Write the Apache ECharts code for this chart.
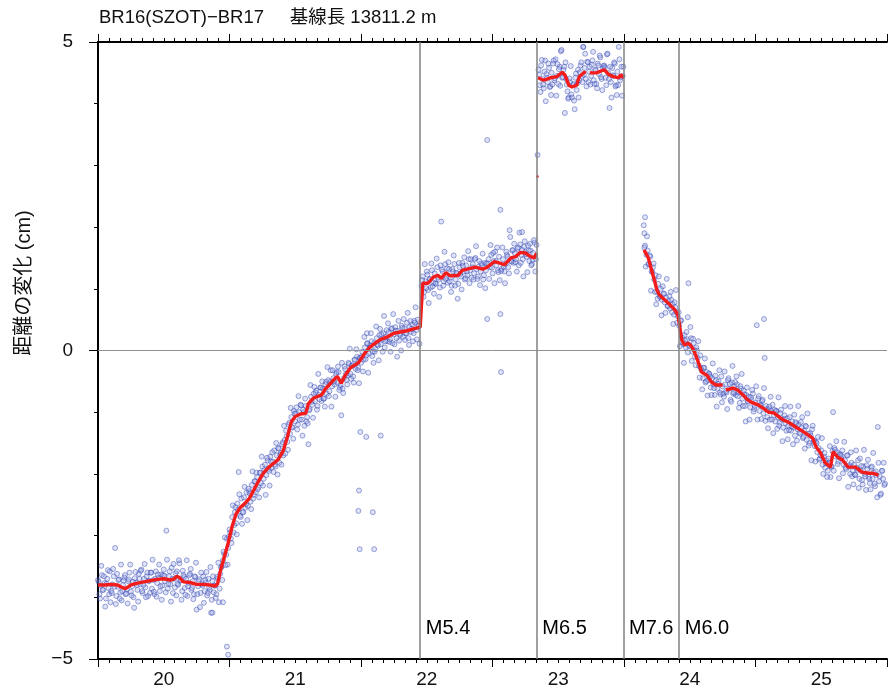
<!DOCTYPE html>
<html>
<head>
<meta charset="utf-8">
<script src="https://cdn.jsdelivr.net/npm/echarts@6/dist/echarts.min.js"></script>
<style>
  html, body { margin: 0; padding: 0; background: #fff; }
  #main { width: 890px; height: 690px; }
</style>
</head>
<body>
<div id="main"></div>
<script>
// 日々の値 (cm)：各区間の開始年と 0.01 年ごとの値（a, b の2組）
var step = 0.01;
var seg1Start = 2020.00;
var seg1 = [
  -3.72,-3.95,-3.81,-3.64,-3.88,-3.77,-4.02,-3.70,-3.85,-3.58,
  -3.90,-3.79,-3.66,-3.20,-3.98,-3.83,-3.71,-3.92,-4.05,-3.80,
  -3.68,-3.95,-3.87,-3.74,-3.60,-3.91,-3.82,-4.00,-3.69,-3.76,
  -3.88,-3.62,-3.79,-3.55,-3.93,-3.70,-3.84,-3.66,-3.98,-3.73,
  -3.60,-3.86,-3.72,-3.95,-3.58,-3.77,-3.68,-3.90,-3.63,-3.81,
  -3.55,-3.74,-2.92,-3.86,-3.66,-3.79,-3.52,-3.93,-3.70,-3.61,
  -3.58,-3.80,-3.45,-3.72,-3.90,-3.64,-3.85,-3.70,-3.98,-3.77,
  -3.62,-3.88,-3.74,-3.95,-3.67,-4.20,-3.82,-3.71,-3.93,-3.79,
  -3.66,-3.90,-3.76,-3.97,-3.70,-3.88,-4.25,-3.74,-3.92,-3.81,
  -3.95,-3.70,-4.08,-3.62,-3.50,-3.40,-3.30,-3.48,-3.05,-3.20,
  -2.90,-3.05,-2.70,-2.95,-2.62,-2.80,-2.48,-1.97,-2.68,-2.40,
  -2.62,-2.38,-2.55,-2.30,-2.52,-2.28,-2.45,-2.18,-2.40,-2.12,
  -2.30,-2.05,-2.22,-1.98,-2.15,-1.88,-2.08,-1.85,-2.02,-1.78,
  -1.95,-1.72,-1.90,-1.80,-1.62,-1.88,-1.70,-1.58,-1.82,-1.66,
  -1.52,-1.70,-1.45,-1.30,-1.48,-1.20,-1.35,-1.08,-1.25,-0.98,
  -1.15,-0.92,-1.20,-1.00,-0.88,-1.12,-0.96,-1.22,-0.90,-1.08,
  -1.52,-0.95,-0.75,-0.88,-0.70,-0.82,-0.65,-0.90,-0.72,-0.60,
  -0.82,-0.62,-0.78,-0.55,-0.70,-0.48,-0.66,-0.32,-0.58,-0.45,
  -0.55,-0.38,-0.52,-0.35,-0.60,-1.05,-0.62,-0.45,-0.30,-0.48,
  -0.40,-0.22,-0.38,-0.25,-0.42,-0.15,-0.30,-0.10,-0.28,-0.12,
  -0.20,-0.02,-0.15,0.05,-0.08,0.12,-0.05,0.08,0.15,-0.02,
  0.12,0.02,0.20,0.08,0.25,0.10,0.18,0.28,0.05,0.22,
  0.15,0.30,0.18,0.35,0.12,0.26,0.38,0.20,0.32,0.16,
  0.25,0.40,0.22,0.36,0.28,0.45,0.20,0.38,0.30,0.42,
  0.28,0.45,0.33,0.50,0.40
];
var seg1b = [
  -3.75,-4.02,-3.49,-3.88,-3.66,-4.15,-3.78,-3.56,-3.95,-4.08,
  -3.93,-3.54,-3.83,-4.11,-3.62,-3.72,-4.02,-3.47,-3.90,-3.73,
  -3.64,-3.94,-4.10,-3.71,-3.47,-3.97,-3.75,-4.17,-3.59,-3.80,
  -4.07,-3.70,-3.57,-3.90,-3.80,-3.46,-4.00,-3.60,-3.74,-3.93,
  -3.60,-3.39,-3.91,-3.70,-3.99,-3.63,-3.47,-3.82,-4.04,-3.64,
  -3.65,-3.92,-3.39,-3.78,-3.58,-4.07,-3.70,-3.46,-3.84,-3.97,
  -3.78,-3.40,-3.73,-4.04,-3.57,-3.67,-3.96,-3.40,-3.82,-3.64,
  -3.54,-3.85,-4.03,-3.66,-3.44,-3.95,-3.74,-4.16,-3.60,-3.81,
  -4.09,-3.72,-3.59,-3.93,-3.84,-3.51,-4.04,-3.66,-3.81,-4.01,
  -3.67,-3.44,-3.86,-3.52,-3.72,-3.26,-3.03,-3.31,-3.47,-3.02,
  -2.95,-3.12,-2.51,-2.83,-2.54,-2.98,-2.58,-2.33,-2.70,-2.81,
  -2.62,-2.21,-2.49,-2.75,-2.24,-2.32,-2.57,-1.96,-2.34,-2.12,
  -1.98,-2.25,-2.38,-1.98,-1.72,-2.19,-1.94,-2.34,-1.74,-1.92,
  -2.19,-1.80,-1.65,-1.97,-1.85,-1.50,-2.01,-1.59,-1.69,-1.85,
  -1.49,-1.22,-1.67,-1.39,-1.61,-1.17,-0.93,-1.24,-1.43,-1.02,
  -1.02,-1.28,-0.74,-1.12,-0.89,-1.38,-1.00,-0.78,-1.15,-1.18,
  -0.97,-0.56,-0.83,-1.09,-0.59,-0.68,-0.96,-0.38,-0.79,-0.60,
  -0.50,-0.78,-0.91,-0.51,-0.27,-0.74,-0.51,-0.91,-0.32,-0.50,
  -0.75,-0.35,-0.26,-0.64,-0.56,-0.20,-0.69,-0.26,-0.38,-0.55,
  -0.20,0.03,-0.46,-0.24,-0.52,-0.15,0.02,-0.32,-0.53,-0.12,
  -0.10,-0.34,0.22,-0.14,0.11,-0.36,0.04,0.28,-0.09,-0.20,
  -0.02,0.39,0.10,-0.16,0.35,0.26,-0.02,0.56,0.15,0.33,
  0.44,0.14,-0.02,0.36,0.59,0.10,0.32,-0.10,0.48,0.27,
  0.00,0.37,0.51,0.17,0.28,0.61,0.09,0.48,0.35,0.15,
  0.48,0.70,0.18,0.40,0.11
];
var seg2Start = 2022.46;
var seg2 = [
  1.05,1.20,0.95,1.12,1.28,0.98,1.15,1.02,1.30,1.10,
  1.25,1.08,1.35,1.15,1.02,2.09,1.28,1.12,1.40,1.20,
  1.10,1.32,1.18,1.05,1.28,1.40,1.15,1.25,1.08,1.35,
  1.20,1.42,1.28,1.15,1.38,1.22,1.48,1.30,1.18,1.40,
  1.25,1.50,1.32,1.20,1.45,1.28,1.38,1.15,1.42,1.30,
  0.51,1.48,1.35,1.55,1.25,1.45,1.60,1.38,1.30,1.52,
  0.59,1.32,1.48,1.28,1.40,1.55,1.35,1.95,1.45,1.62,
  1.42,1.58,1.48,1.65,1.38,1.72,1.55,1.48,1.68,1.60,
  1.52,1.70,1.45,1.62,1.40,1.58,1.75,1.48
];
var seg2b = [
  1.14,0.87,1.40,1.01,1.23,0.77,1.16,1.41,1.04,0.92,
  1.09,1.49,1.18,0.87,1.38,1.31,1.05,1.60,1.16,1.33,
  1.43,1.12,0.95,1.32,1.54,1.05,1.26,0.84,1.42,1.24,
  0.99,1.37,1.51,1.17,1.28,1.61,1.09,1.48,1.35,1.15,
  1.48,1.69,1.16,1.36,1.06,1.41,1.57,1.22,1.01,1.41,
  1.41,1.16,1.71,1.34,1.58,1.09,1.45,1.67,1.27,1.14,
  1.29,1.67,1.36,1.09,1.60,1.52,1.25,1.84,1.44,1.63,
  1.73,1.43,1.28,1.67,1.91,1.42,1.63,1.20,1.77,1.56,
  1.27,1.62,1.73,1.38,1.47,1.79,1.28,1.71
];
var seg3Start = 2023.35;
var seg3 = [
  4.55,4.30,4.62,4.40,4.25,4.70,4.48,4.35,4.58,4.28,
  4.50,4.65,4.38,4.72,4.45,4.32,4.60,4.85,4.42,4.55,
  3.85,4.40,4.20,4.10,4.35,4.15,4.30,4.05,4.42,4.22,
  4.55,4.38,4.62,4.45,4.92,4.58,4.40,4.68,4.35,4.60,
  4.45,4.70,4.38,4.55,4.32,4.65,4.48,4.75,4.40,4.58,
  4.62,4.42,4.80,4.50,3.93,4.35,4.58,4.45,4.65,4.30,
  4.52,4.92,4.38,4.60,4.45
];
var seg3b = [
  4.47,4.19,4.71,4.31,4.52,4.04,4.42,4.65,4.27,4.14,
  4.31,4.70,4.41,4.13,4.64,4.56,4.29,4.87,4.43,4.60,
  4.67,4.31,4.08,4.41,4.61,4.10,4.32,3.91,4.49,4.33,
  4.10,4.51,4.67,4.35,4.47,4.81,4.28,4.67,4.52,4.31,
  4.63,4.84,4.32,4.54,4.25,4.62,4.78,4.43,4.22,4.61,
  4.59,4.30,4.81,4.40,4.60,4.10,4.46,4.67,4.28,4.14,
  4.30,4.72,4.43,4.13,4.60
];
var seg4Start = 2024.15;
var seg4 = [
  2.03,1.70,1.55,1.62,1.40,1.52,1.28,1.35,1.15,1.22,
  0.95,1.08,0.88,1.00,0.82,0.92,0.78,0.86,0.72,0.80,
  0.68,0.82,0.75,0.58,0.70,0.62,0.55,0.40,0.48,0.22,
  0.10,0.25,0.05,0.18,1.09,0.08,0.20,-0.02,0.12,-0.10,
  0.05,-0.12,-0.25,-0.08,-0.32,-0.45,-0.28,-0.52,-0.35,-0.48,
  -0.38,-0.60,-0.45,-0.55,-0.72,-0.48,-0.62,-0.50,-0.68,-0.42,
  -0.58,-0.75,-0.55,-0.68,-0.48,-0.62,-0.80,-0.52,-0.70,-0.58,
  -0.72,-0.55,-0.68,-0.85,-0.62,-0.78,-0.65,-0.90,-0.72,-0.82,
  -0.75,-0.92,-0.80,-0.70,-0.95,-0.85,0.41,-0.78,-0.98,-0.88,
  -0.82,-1.02,-0.12,-0.90,-1.08,-0.95,-1.12,-0.98,-0.88,-1.05,
  -1.15,-0.98,-1.08,-1.22,-1.02,-1.12,-1.25,-1.05,-1.18,-1.10,
  -1.22,-1.08,-1.30,-1.15,-1.25,-1.38,-1.18,-1.28,-1.20,-1.35,
  -1.25,-1.42,-1.30,-1.22,-1.45,-1.35,-1.50,-1.38,-1.28,-1.48,
  -1.55,-1.48,-1.65,-1.58,-1.75,-1.62,-1.85,-1.72,-1.90,-1.78,
  -1.95,-1.82,-2.05,-1.88,-1.00,-1.58,-1.72,-1.65,-1.80,-1.68,
  -1.75,-1.62,-1.85,-1.78,-1.92,-1.70,-1.88,-2.00,-1.82,-1.95,
  -1.85,-2.02,-1.90,-1.78,-2.08,-1.95,-2.10,-1.88,-2.00,-2.26,
  -1.92,-2.05,-2.15,-1.90,-2.08,-1.98,-2.20,-2.02,-1.24,-2.12,
  -2.34,-1.95,-2.08,-2.18
];
var seg4b = [
  1.67,1.36,1.85,1.40,1.54,0.97,1.27,1.41,0.95,0.75,
  0.84,1.20,0.87,0.57,1.04,0.92,0.61,1.16,0.72,0.88,
  0.95,0.62,0.43,0.78,0.98,0.45,0.62,0.07,0.49,0.13,
  -0.20,0.16,0.30,-0.03,0.07,0.38,-0.17,0.19,0.01,-0.24,
  0.00,0.15,-0.44,-0.29,-0.63,-0.28,-0.13,-0.50,-0.73,-0.37,
  -0.42,-0.72,-0.21,-0.61,-0.41,-0.91,-0.54,-0.32,-0.71,-0.84,
  -0.70,-0.34,-0.66,-0.95,-0.45,-0.54,-0.83,-0.25,-0.68,-0.51,
  -0.42,-0.74,-0.93,-0.58,-0.38,-0.90,-0.71,-1.15,-0.60,-0.83,
  -1.12,-0.76,-0.64,-0.99,-0.90,-0.58,-1.12,-0.74,-0.89,-1.11,
  -0.80,-0.61,-1.14,-0.95,-1.26,-0.91,-0.75,-1.12,-1.34,-0.96,
  -0.98,-1.27,-0.76,-1.17,-0.96,-1.47,-1.11,-0.90,-1.30,-1.44,
  -1.29,-0.91,-1.23,-1.52,-1.04,-1.16,-1.46,-0.90,-1.33,-1.16,
  -1.08,-1.40,-1.59,-1.23,-1.02,-1.54,-1.34,-1.78,-1.22,-1.46,
  -1.80,-1.50,-1.40,-1.77,-1.70,-1.42,-2.00,-1.66,-1.83,-2.05,
  -1.75,-1.55,-1.88,-1.63,-1.95,-1.61,-1.47,-1.84,-2.07,-1.69,
  -1.71,-1.99,-1.48,-1.90,-1.70,-2.21,-1.86,-1.65,-2.04,-2.17,
  -2.01,-1.62,-1.93,-2.23,-1.75,-1.87,-2.17,-1.61,-2.04,-1.86,
  -1.77,-2.08,-2.25,-1.88,-1.66,-2.16,-1.96,-2.38,-1.82,-2.04,
  -2.32,-1.95,-1.82,-2.16
];
// 外れ値 [年, cm]
var outliers = [
  [2020.98,-4.80],[2020.99,-4.93],[2020.95,-4.08],[2020.87,-4.25],
  [2021.985,-2.27],[2021.98,-2.60],[2022.09,-2.62],[2021.99,-3.22],[2022.10,-3.22],
  [2021.995,-1.32],[2022.04,-1.40],[2022.15,-1.38],[2022.045,0.28],
  [2022.96,3.41],[2023.06,2.28],[2023.065,-0.35],[2023.225,1.92],
  [2023.343,3.17],[2023.69,4.92],[2025.065,0.51],[2024.485,0.54],
  [2024.16,2.16],[2024.155,1.90]
];
// 移動平均（赤線）
var trendA = [
  [2020.00,-3.80],[2020.05,-3.80],[2020.10,-3.79],[2020.15,-3.80],[2020.18,-3.84],[2020.21,-3.86],
  [2020.25,-3.80],[2020.30,-3.77],[2020.35,-3.75],[2020.40,-3.73],[2020.45,-3.71],[2020.50,-3.70],
  [2020.55,-3.72],[2020.58,-3.70],[2020.60,-3.66],[2020.62,-3.68],[2020.65,-3.75],[2020.70,-3.76],
  [2020.75,-3.79],[2020.80,-3.79],[2020.85,-3.80],[2020.89,-3.82],[2020.91,-3.78],[2020.93,-3.58],
  [2020.96,-3.35],[2020.99,-3.12],[2021.02,-2.85],[2021.05,-2.65],[2021.08,-2.55],[2021.12,-2.47],
  [2021.15,-2.40],[2021.18,-2.28],[2021.22,-2.12],[2021.26,-1.98],[2021.30,-1.89],[2021.34,-1.82],
  [2021.37,-1.77],[2021.41,-1.62],[2021.44,-1.40],[2021.47,-1.16],[2021.50,-1.07],[2021.54,-1.03],
  [2021.58,-1.02],[2021.60,-0.86],[2021.64,-0.77],[2021.70,-0.72],[2021.73,-0.62],[2021.80,-0.46],
  [2021.82,-0.42],[2021.85,-0.53],[2021.88,-0.40],[2021.92,-0.28],[2021.98,-0.20],[2022.03,-0.04],
  [2022.07,0.06],[2022.14,0.17],[2022.20,0.22],[2022.25,0.28],[2022.30,0.30],[2022.35,0.32],
  [2022.40,0.35],[2022.45,0.38],
  [2022.47,1.09],[2022.51,1.09],[2022.55,1.19],[2022.585,1.22],[2022.61,1.17],[2022.645,1.26],
  [2022.68,1.21],[2022.74,1.22],[2022.77,1.30],[2022.83,1.33],[2022.87,1.35],[2022.925,1.32],
  [2022.96,1.35],[2023.015,1.44],[2023.05,1.42],[2023.09,1.39],[2023.14,1.50],[2023.175,1.52],
  [2023.21,1.59],[2023.25,1.58],[2023.29,1.52],[2023.32,1.50],[2023.335,1.58]
];
var trendB = [
  [2023.345,4.42],[2023.39,4.38],[2023.44,4.42],[2023.49,4.44],[2023.53,4.51],[2023.55,4.47],
  [2023.58,4.30],[2023.605,4.27],[2023.64,4.30],[2023.66,4.44],[2023.70,4.51],[2023.705,4.53]
];
var trendC = [
  [2023.74,4.50],[2023.79,4.50],[2023.85,4.55],[2023.885,4.47],[2023.92,4.44],[2023.96,4.42],
  [2023.975,4.47],[2024.0,4.42]
];
var trendD = [
  [2024.152,1.63],[2024.185,1.50],[2024.21,1.30],[2024.235,1.11],[2024.25,0.98],[2024.27,0.90],
  [2024.31,0.82],[2024.35,0.74],[2024.385,0.66],[2024.41,0.58],[2024.425,0.37],[2024.44,0.17],
  [2024.46,0.09],[2024.49,0.12],[2024.515,0.06],[2024.535,-0.02],[2024.565,-0.19],[2024.59,-0.35],
  [2024.63,-0.40],[2024.665,-0.51],[2024.70,-0.56],[2024.75,-0.56]
];
var trendE = [
  [2024.775,-0.64],[2024.83,-0.61],[2024.865,-0.64],[2024.905,-0.72],[2024.94,-0.80],[2024.98,-0.85],
  [2025.02,-0.88],[2025.055,-0.93],[2025.10,-1.00],[2025.14,-1.01],[2025.18,-1.08],[2025.215,-1.13],
  [2025.25,-1.16],[2025.305,-1.24],[2025.345,-1.29],[2025.38,-1.34],[2025.435,-1.42],[2025.46,-1.56],
  [2025.495,-1.66],[2025.53,-1.82],[2025.57,-1.89],[2025.59,-1.64],[2025.625,-1.73],[2025.66,-1.77],
  [2025.705,-1.89],[2025.76,-1.89],[2025.81,-1.97],[2025.86,-1.99],[2025.895,-1.99],[2025.935,-2.02]
];
var redDots = [[2023.342,2.82]];
// 地震
var eventYears = [2022.455, 2023.341, 2024.0, 2024.424];
var eventLabels = ['M5.4', 'M6.5', 'M7.6', 'M6.0'];
var eventLabelY = -4.5;

var FONT = '"Liberation Sans", Arial, "Noto Sans CJK JP", sans-serif';

function toPoints(start, vals) {
  return vals.map(function (v, i) {
    return [+(start + i * step).toFixed(3), v];
  });
}
var half = step / 2;
var blue = toPoints(seg1Start, seg1)
  .concat(toPoints(seg1Start + half, seg1b))
  .concat(toPoints(seg2Start, seg2))
  .concat(toPoints(seg2Start + half, seg2b))
  .concat(toPoints(seg3Start, seg3))
  .concat(toPoints(seg3Start + half, seg3b))
  .concat(toPoints(seg4Start, seg4))
  .concat(toPoints(seg4Start + half, seg4b))
  .concat(outliers);

var myChart = echarts.init(document.getElementById('main'));

var tickX = {
  type: 'value', min: 2020, max: 2026, interval: 1,
  axisLine: { show: true, onZero: false, lineStyle: { color: '#000', width: 2 } },
  axisTick: { show: true, length: 8, lineStyle: { color: '#000', width: 1 } },
  minorTick: { show: true, splitNumber: 12, length: 4, lineStyle: { color: '#000', width: 1 } },
  axisLabel: { show: false },
  splitLine: { show: false }
};

var trendSeries = [trendA, trendB, trendC, trendD, trendE].map(function (d) {
  return {
    type: 'line', data: d, showSymbol: false, z: 4,
    lineStyle: { color: '#f21c1c', width: 3.4 },
    itemStyle: { color: '#f21c1c' }
  };
});

var option = {
  animation: false,
  backgroundColor: '#fff',
  title: {
    text: 'BR16(SZOT)−BR17     基線長 13811.2 m',
    left: 99, top: 9, padding: 0,
    textStyle: { fontFamily: FONT, fontSize: 18.5, fontWeight: 'normal', color: '#111' }
  },
  grid: { left: 98, right: 0, top: 42, bottom: 31, containLabel: false },
  xAxis: [
    echarts.util.merge({ position: 'bottom' }, tickX, true),
    {
      type: 'value', min: 2020, max: 2026, interval: 0.5, position: 'bottom',
      axisLine: { show: false }, axisTick: { show: false }, splitLine: { show: false },
      axisLabel: {
        margin: 11, fontFamily: FONT, fontSize: 19, color: '#111',
        formatter: function (v) {
          return (Math.round(v * 2) % 2 === 1) ? String(Math.floor(v) % 100) : '';
        }
      }
    },
    echarts.util.merge({ position: 'top' }, tickX, true)
  ],
  yAxis: {
    type: 'value', min: -5, max: 5, interval: 5,
    axisLine: { show: true, onZero: false, lineStyle: { color: '#000', width: 2 } },
    axisTick: { show: true, length: 9, lineStyle: { color: '#000', width: 1 } },
    minorTick: { show: true, splitNumber: 5, length: 4, lineStyle: { color: '#000', width: 1 } },
    splitLine: { show: false },
    axisLabel: {
      margin: 25, fontFamily: FONT, fontSize: 19, color: '#111',
      formatter: function (v) { return v < 0 ? '−' + Math.abs(v) : String(v); }
    }
  },
  series: [
    {
      type: 'scatter', data: blue, symbolSize: 5, z: 3,
      itemStyle: { color: 'rgba(140,155,225,0.35)', borderColor: 'rgba(40,60,170,0.55)', borderWidth: 1 },
      markLine: {
        silent: true, symbol: 'none', label: { show: false },
        data: eventYears.map(function (x) {
          return { xAxis: x, lineStyle: { color: '#808080', width: 1.5, type: 'solid' } };
        }).concat([{ yAxis: 0, lineStyle: { color: '#909090', width: 1, type: 'solid' } }])
      }
    },
    {
      type: 'scatter', data: redDots, symbolSize: 3, z: 4,
      itemStyle: { color: '#f21c1c' }
    }
  ].concat(trendSeries)
};
myChart.setOption(option);

// 縦軸名と地震ラベル
var graphics = [{
  type: 'text', x: 24, y: 283, rotation: Math.PI / 2,
  style: {
    text: '距離の変化 (cm)', fontFamily: FONT, fontSize: 20, fill: '#111',
    textAlign: 'center', textVerticalAlign: 'middle'
  }
}];
eventYears.forEach(function (x, i) {
  var p = myChart.convertToPixel({ xAxisIndex: 0, yAxisIndex: 0 }, [x, eventLabelY]);
  graphics.push({
    type: 'text', x: p[0] + 5, y: p[1], z: 10,
    style: {
      text: eventLabels[i], fontFamily: FONT, fontSize: 20, fill: '#000',
      textAlign: 'left', textVerticalAlign: 'middle'
    }
  });
});
myChart.setOption({ graphic: graphics });
</script>
</body>
</html>
